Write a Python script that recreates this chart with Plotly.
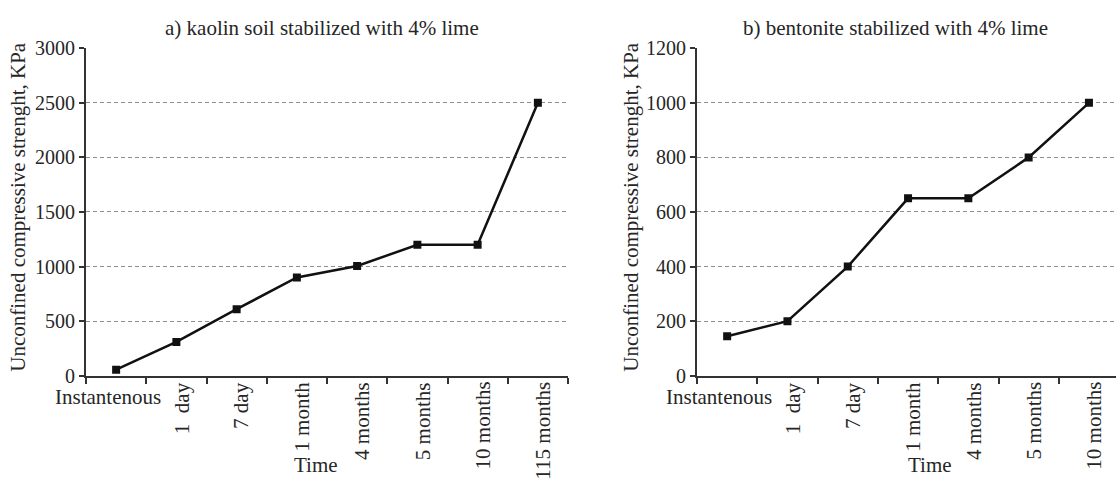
import plotly.graph_objects as go

# ---- data ----
cats_a = ["Instantenous", "1  day", "7 day", "1 month", "4 months", "5 months", "10 months", "115 months"]
vals_a = [55, 310, 610, 900, 1005, 1200, 1200, 2500]
cats_b = ["Instantenous", "1  day", "7 day", "1 month", "4 months", "5 months", "10 months"]
vals_b = [145, 200, 400, 650, 650, 800, 1000]
title_a = "a) kaolin soil stabilized with 4% lime"
title_b = "b) bentonite stabilized with 4% lime"
ytitle = "Unconfined compressive strenght, KPa"
xtitle = "Time"

W, H = 1116, 487
FONT = "Liberation Serif"
FS = 21
TXT = "#262626"
AX = "#333333"

def px(x):
    return x / W

def py(y):
    return 1 - y / H

fig = go.Figure()
fig.add_trace(go.Scatter(x=list(range(len(vals_a))), y=vals_a, mode="lines+markers",
                         line=dict(color="#111", width=2.5),
                         marker=dict(symbol="square", size=8, color="#111"),
                         xaxis="x", yaxis="y", showlegend=False))
fig.add_trace(go.Scatter(x=list(range(len(vals_b))), y=vals_b, mode="lines+markers",
                         line=dict(color="#111", width=2.5),
                         marker=dict(symbol="square", size=8, color="#111"),
                         xaxis="x2", yaxis="y2", showlegend=False))

ydom = [py(382), py(39)]
common_x = dict(showgrid=False, zeroline=False, showline=True, linecolor=AX, linewidth=2,
                ticks="outside", ticklen=6, tickwidth=2, tickcolor=AX, showticklabels=False)
common_y = dict(showgrid=True, gridcolor="#8f8f8f", griddash="4px,3px", gridwidth=1,
                zeroline=False, showline=True, linecolor=AX, linewidth=2,
                ticks="outside", ticklen=5, tickwidth=2, tickcolor=AX,
                tickfont=dict(family=FONT, size=20, color=TXT))

fig.update_layout(
    width=W, height=H, margin=dict(l=0, r=0, t=0, b=0),
    paper_bgcolor="white", plot_bgcolor="white",
    xaxis=dict(domain=[px(86), px(568)], range=[-0.5, len(cats_a) - 0.5],
               tickvals=[i - 0.5 for i in range(len(cats_a) + 1)], anchor="y", **common_x),
    yaxis=dict(domain=ydom, range=[0, 3000], dtick=500, anchor="x", **common_y),
    xaxis2=dict(domain=[px(697), 1.0], range=[-0.5, -0.5 + (W - 697) / 60.3],
                tickvals=[i - 0.5 for i in range(len(cats_b) + 1)], anchor="y2", **common_x),
    yaxis2=dict(domain=ydom, range=[0, 1200], dtick=200, anchor="x2", **common_y),
)

ann = []
def tick_labels(cats, xref, yref):
    for i, c in enumerate(cats):
        if i == 0:
            ann.append(dict(x=i, y=0, xref=xref, yref=yref, text=c, showarrow=False,
                            xanchor="center", yanchor="top", yshift=-7, xshift=-8,
                            font=dict(family=FONT, size=FS, color=TXT)))
        else:
            ann.append(dict(x=i, y=0, xref=xref, yref=yref, text=c, showarrow=False,
                            textangle=-90, xanchor="center", yanchor="top", yshift=-4, xshift=5,
                            font=dict(family=FONT, size=FS, color=TXT)))

tick_labels(cats_a, "x", "y")
tick_labels(cats_b, "x2", "y2")

for (tx, ty, t) in [(322, 18, title_a), (895, 18, title_b)]:
    ann.append(dict(x=px(tx), y=py(ty), xref="paper", yref="paper", text=t, showarrow=False,
                    xanchor="center", yanchor="middle", font=dict(family=FONT, size=FS, color=TXT)))
for tx in [18, 631]:
    ann.append(dict(x=px(tx), y=py(205), xref="paper", yref="paper", text=ytitle, showarrow=False,
                    textangle=-90, xanchor="center", yanchor="middle",
                    font=dict(family=FONT, size=FS, color=TXT)))
for tx in [316, 930]:
    ann.append(dict(x=px(tx), y=py(476), xref="paper", yref="paper", text=xtitle, showarrow=False,
                    xanchor="center", yanchor="middle", font=dict(family=FONT, size=FS, color=TXT)))

fig.update_layout(annotations=ann)
fig.write_html("out.html")
